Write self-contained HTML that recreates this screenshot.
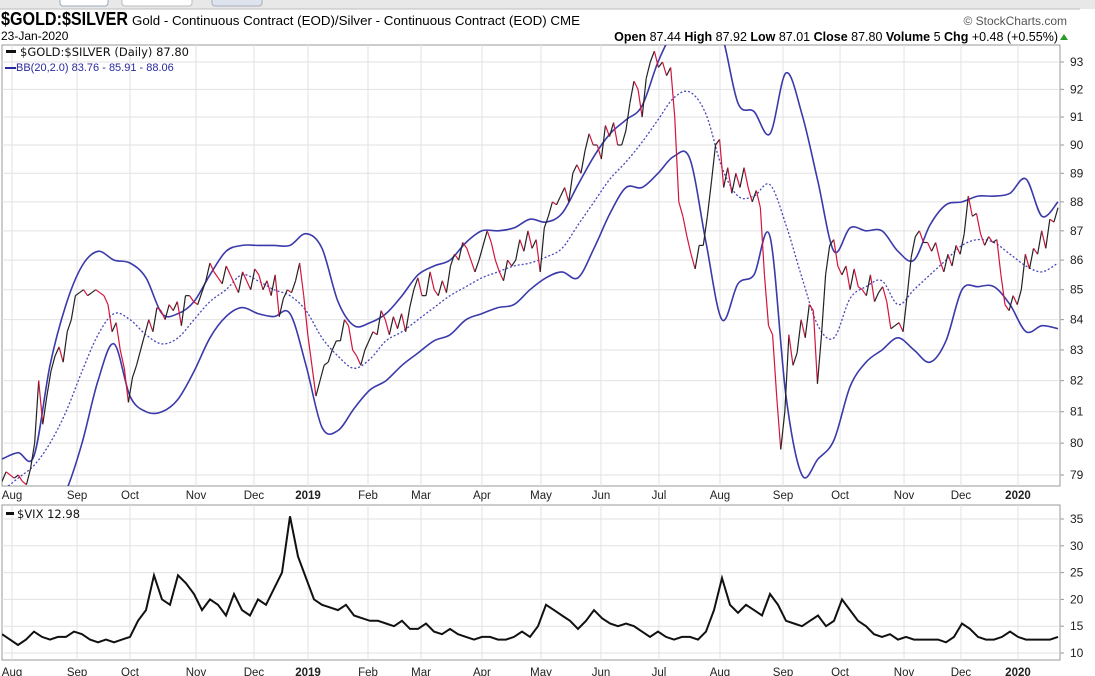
<!DOCTYPE html>
<html><head><meta charset="utf-8">
<style>
body{margin:0;background:#fff;width:1095px;height:676px;overflow:hidden;font-family:"Liberation Sans",sans-serif;}
svg{position:absolute;left:0;top:0}
</style></head>
<body>
<svg id="c" width="1095" height="676" xmlns="http://www.w3.org/2000/svg">
<rect x="0" y="0" width="1095" height="9" fill="#e8e8e8"/>
<rect x="60" y="-6" width="48" height="12" rx="3" fill="#fff" stroke="#9ab"/>
<rect x="122" y="-6" width="70" height="12" rx="3" fill="#fff" stroke="#bbb"/>
<rect x="212" y="-6" width="50" height="12" rx="3" fill="#dde4ee" stroke="#aab"/>
<line x1="0" y1="9" x2="1080" y2="9" stroke="#bbb"/>
<text x="1" y="25" font-size="18" font-weight="bold" textLength="127" lengthAdjust="spacingAndGlyphs">$GOLD:$SILVER</text>
<text x="132" y="25" font-size="13" textLength="448" lengthAdjust="spacingAndGlyphs">Gold - Continuous Contract (EOD)/Silver - Continuous Contract (EOD) CME</text>
<text x="1" y="40" font-size="12">23-Jan-2020</text>
<text x="1067" y="25" font-size="12" fill="#555" text-anchor="end">© StockCharts.com</text>
<text x="1058" y="41" font-size="12.5" text-anchor="end"><tspan font-weight="bold">Open</tspan> 87.44 <tspan font-weight="bold">High</tspan> 87.92 <tspan font-weight="bold">Low</tspan> 87.01 <tspan font-weight="bold">Close</tspan> 87.80 <tspan font-weight="bold">Volume</tspan> 5 <tspan font-weight="bold">Chg</tspan> +0.48 (+0.55%)</text>
<polygon points="1060,40 1064,34 1068,40" fill="#2a9a2a"/>
<g id="main"></g>
<g id="vix"></g>
</svg>
<script>
const closes=[78.8,79.1,79.0,78.9,79.0,78.8,78.7,79.2,80.0,82.0,80.6,81.5,82.3,82.8,83.1,82.6,83.6,84.0,84.8,84.9,85.0,84.8,84.9,85.0,84.9,84.8,84.5,83.6,
83.9,83.0,82.4,81.3,82.1,82.5,83.0,83.5,84.0,83.6,84.4,84.3,84.0,84.5,84.3,84.6,83.8,84.8,84.8,84.6,84.5,84.9,85.3,85.9,85.6,85.4,85.2,85.8,85.5,85.2,84.9,85.6,85.3,85.0,85.7,85.5,85.0,85.3,84.8,85.5,84.1,84.7,85.0,84.9,85.3,85.9,84.8,83.5,82.5,81.5,82.0,82.5,82.6,83.0,83.3,83.3,84.0,83.8,83.0,82.8,82.5,83.0,83.3,83.6,83.5,84.3,84.0,83.5,84.1,83.7,84.2,83.6,84.4,85.0,85.4,84.8,84.8,85.6,85.0,84.8,85.3,84.9,85.8,86.2,86.0,86.6,86.4,86.0,85.6,86.0,86.5,87.0,86.6,86.0,85.6,85.3,86.0,85.8,86.0,86.7,86.3,87.0,86.4,86.7,85.6,87.1,87.5,88.0,87.9,88.2,88.5,88.0,89.0,89.3,89.0,89.8,90.4,90.0,90.0,89.5,90.7,90.3,90.8,90.0,90.0,90.5,91.5,92.3,92.0,91.0,92.4,93.0,93.4,92.8,93.0,92.5,92.8,91.0,88.0,87.5,86.8,86.2,85.7,86.5,86.5,87.5,88.7,90.0,90.2,88.5,89.2,88.3,89.0,88.5,89.2,88.5,88.0,88.4,87.8,85.5,83.8,83.5,81.5,79.8,81.0,83.5,82.5,82.9,84.0,83.4,84.5,84.3,81.9,83.5,85.5,86.5,86.7,85.8,85.5,85.8,85.0,85.7,85.1,85.0,84.8,85.5,84.6,84.9,85.1,84.6,83.7,83.8,83.9,83.6,84.8,86.1,86.8,87.0,86.6,86.6,86.3,86.6,86.0,85.6,86.2,85.8,86.5,86.2,86.9,88.2,87.5,87.6,86.9,86.5,86.8,86.6,86.7,85.5,84.5,84.3,84.8,84.5,85.0,86.2,85.7,86.4,86.2,87.0,86.4,87.4,87.3,87.8];
const bbUpper=[79.5,79.7,79.6,82.5,84.5,85.8,86.3,86.0,85.9,85.4,
84.2,84.2,84.6,85.5,86.3,86.5,86.5,86.5,86.5,86.9,
86.4,84.6,83.8,83.9,84.2,84.8,85.5,85.8,86.0,86.6,
87.0,87.0,87.1,87.4,87.3,87.6,88.6,89.6,90.4,90.9,
91.4,93.0,94.2,95.0,95.0,94.0,91.5,91.2,90.4,92.6,
91.1,88.7,86.3,87.1,87.0,87.0,86.3,86.0,87.2,87.9,
88.0,88.2,88.2,88.3,88.8,87.5,88.0];
const bbMid=[78.5,78.9,79.3,80.0,81.0,82.3,83.5,84.2,84.0,83.5,
83.2,83.4,84.0,84.6,85.0,85.5,85.3,85.0,84.8,84.3,
83.4,82.8,82.4,82.7,83.3,83.6,84.0,84.4,84.8,85.1,
85.4,85.6,85.8,85.9,86.1,86.4,87.2,88.0,88.8,89.4,
90.1,90.9,91.7,91.9,91.1,89.2,88.2,88.2,88.6,87.2,
85.4,83.8,83.4,84.7,85.1,85.3,84.5,85.0,85.5,86.0,
86.5,86.7,86.6,86.2,85.8,85.6,85.9];
const bbLower=[77.5,77.8,78.0,77.7,78.5,80.0,82.0,83.2,81.5,81.0,
81.0,81.4,82.3,83.4,84.1,84.4,84.2,84.1,84.2,82.5,
80.5,80.4,81.1,81.7,82.0,82.5,82.9,83.3,83.5,84.0,
84.2,84.4,84.5,85.0,85.4,85.6,85.4,86.4,87.6,88.5,
88.5,89.0,89.6,89.5,86.6,84.0,85.2,85.5,86.8,81.5,
79.0,79.5,80.1,81.8,82.6,83.0,83.4,83.0,82.6,83.3,
85.0,85.1,85.1,84.5,83.6,83.8,83.7];
const vixValues=[13.5,12.5,11.5,12.5,14,13,12.5,13,13,14,13.5,12.5,12,12.5,12,12.5,13,16,18,24.5,20,19,24.5,23,21,18,20,19,17,21,18,17,20,19,22,25,35.5,28,24,20,19,18.5,18,19,17,16.5,16,16,15.5,15,16,14.5,14.5,15.5,14,13.5,14.5,13.5,13,12.5,13,13,12.5,12.5,13,14,13,15,19,18,17,16,14.5,16,18,16.5,15.5,15,15.5,15,14,13,14,13,12.5,13,13,12.5,14,18,24,19,17.5,19,18,17,21,19,16,15.5,15,16,17,15,16,20,18,16,15,13.5,13,13.5,12.5,13,12.5,12.5,12.5,12.5,12,13,15.5,14.5,13,12.5,12.5,13,14,13,12.5,12.5,12.5,12.5,13];
const priceTicks=[79,80,81,82,83,84,85,86,87,88,89,90,91,92,93];
const vixTicks=[10,15,20,25,30,35];
const monthLabels=["Aug","Sep","Oct","Nov","Dec","2019","Feb","Mar","Apr","May","Jun","Jul","Aug","Sep","Oct","Nov","Dec","2020"];
const monthPos=[0.0095,0.0711,0.1212,0.1837,0.2386,0.2898,0.3466,0.3968,0.4545,0.5104,0.5672,0.6221,0.6799,0.7396,0.7936,0.8542,0.9081,0.9621];

const NS="http://www.w3.org/2000/svg";
function mk(tag,attrs,parent){const e=document.createElementNS(NS,tag);for(const k in attrs)e.setAttribute(k,attrs[k]);parent.appendChild(e);return e;}
const L=2,R=1060,W=1056;
function xFrac(f){return L+f*W;}
function xAt(k,len){return xFrac(k/(len-1));}
const PT=45,PB=486;
const lnTop=Math.log(93),lnBot=Math.log(79);
function yP(v){return 475-(Math.log(v)-lnBot)/(lnTop-lnBot)*413;}
const VT=505,VB=660;
function yV(v){return 653-(v-10)*(134/25);}

const main=document.getElementById('main');
const vix=document.getElementById('vix');
let r=mk('rect',{x:L,y:PT,width:R-L,height:PB-PT,fill:'#fff',stroke:'#999'},main);


r=mk('rect',{x:L,y:VT,width:R-L,height:VB-VT,fill:'#fff',stroke:'#999'},vix);


const defs=mk('defs',{},main);
const cp=mk('clipPath',{id:'clipP'},defs);
mk('rect',{x:L,y:PT,width:R-L,height:PB-PT},cp);
const cv=mk('clipPath',{id:'clipV'},defs);
mk('rect',{x:L,y:VT,width:R-L,height:VB-VT},cv);

priceTicks.forEach(t=>{const y=yP(t);
 let g=mk('line',{x1:L,y1:y,x2:R,y2:y,stroke:'#e2e2e2'},main);
 
 
 mk('line',{x1:R,y1:y,x2:R+4,y2:y,stroke:'#999'},main);
 let t2=mk('text',{x:R+10,y:y+4,'font-size':12,fill:'#222'},main);t2.textContent=t;
 
 
});
vixTicks.forEach(t=>{const y=yV(t);
 let g=mk('line',{x1:L,y1:y,x2:R,y2:y,stroke:'#e2e2e2'},vix);
 
 
 mk('line',{x1:R,y1:y,x2:R+4,y2:y,stroke:'#999'},vix);
 let t2=mk('text',{x:R+10,y:y+4,'font-size':12,fill:'#222'},vix);t2.textContent=t;
 
 
});
monthLabels.forEach((m,k)=>{const x=xFrac(monthPos[k]);
 [[PT,PB,main,494],[VT,VB,vix,671]].forEach(([a,b,p,ly])=>{
  let g=mk('line',{x1:x,y1:a,x2:x,y2:b,stroke:'#e2e2e2'},p);
  
  
  let t=mk('text',{x:x,y:ly+5,'font-size':11.5,'text-anchor':'middle',fill:'#222','font-weight':/^\d/.test(m)?'bold':'normal'},p);
  t.textContent=m;
  
  
 });
});

function smoothPath(pts){
 let d='M'+pts[0][0].toFixed(1)+','+pts[0][1].toFixed(1);
 for(let i=0;i<pts.length-1;i++){
  const p0=pts[Math.max(0,i-1)],p1=pts[i],p2=pts[i+1],p3=pts[Math.min(pts.length-1,i+2)];
  const c1x=p1[0]+(p2[0]-p0[0])/6,c1y=p1[1]+(p2[1]-p0[1])/6;
  const c2x=p2[0]-(p3[0]-p1[0])/6,c2y=p2[1]-(p3[1]-p1[1])/6;
  d+='C'+c1x.toFixed(1)+','+c1y.toFixed(1)+' '+c2x.toFixed(1)+','+c2y.toFixed(1)+' '+p2[0].toFixed(1)+','+p2[1].toFixed(1);
 }
 return d;
}
function bandPath(arr){return smoothPath(arr.map((v,k)=>[xAt(k,arr.length),yP(v)]));}
const gClip=mk('g',{'clip-path':'url(#clipP)'},main);
let p=mk('path',{d:bandPath(bbUpper),fill:'none',stroke:'#3a3aaa','stroke-width':1.6,'stroke-linejoin':'round'},gClip);


p=mk('path',{d:bandPath(bbLower),fill:'none',stroke:'#3a3aaa','stroke-width':1.6,'stroke-linejoin':'round'},gClip);


p=mk('path',{d:bandPath(bbMid),fill:'none',stroke:'#4848bb','stroke-width':1.3,'stroke-dasharray':'2,2'},gClip);


const N=closes.length;
for(let i=1;i<N;i++){
 const s=mk('line',{x1:xAt(i-1,N),y1:yP(closes[i-1]),x2:xAt(i,N),y2:yP(closes[i]),stroke:closes[i]>=closes[i-1]?'#222':'#d4143c','stroke-width':1.2},gClip);
 
 
}
const vx=vixValues.map((v,k)=>(k?'L':'M')+xAt(k,vixValues.length).toFixed(1)+','+yV(v).toFixed(1)).join('');
p=mk('path',{d:vx,fill:'none',stroke:'#111','stroke-width':2,'clip-path':'url(#clipV)'},vix);



let lg=mk('rect',{x:6,y:50,width:10,height:3,fill:'#111'},main);


let lt=mk('text',{x:20,y:56,'font-size':11.5,'font-family':'DejaVu Sans, sans-serif',fill:'#111'},main);
lt.textContent='$GOLD:$SILVER (Daily) 87.80';


lg=mk('rect',{x:5,y:67,width:11,height:2,fill:'#2a2aa0'},main);


lt=mk('text',{x:16,y:71,'font-size':11,fill:'#2a2aa0'},main);
lt.textContent='BB(20,2.0) 83.76 - 85.91 - 88.06';


lg=mk('rect',{x:6,y:512,width:8,height:3,fill:'#111'},vix);


lt=mk('text',{x:17,y:518,'font-size':11.5,'font-family':'DejaVu Sans, sans-serif',fill:'#111'},vix);
lt.textContent='$VIX 12.98';


</script>
</body></html>
